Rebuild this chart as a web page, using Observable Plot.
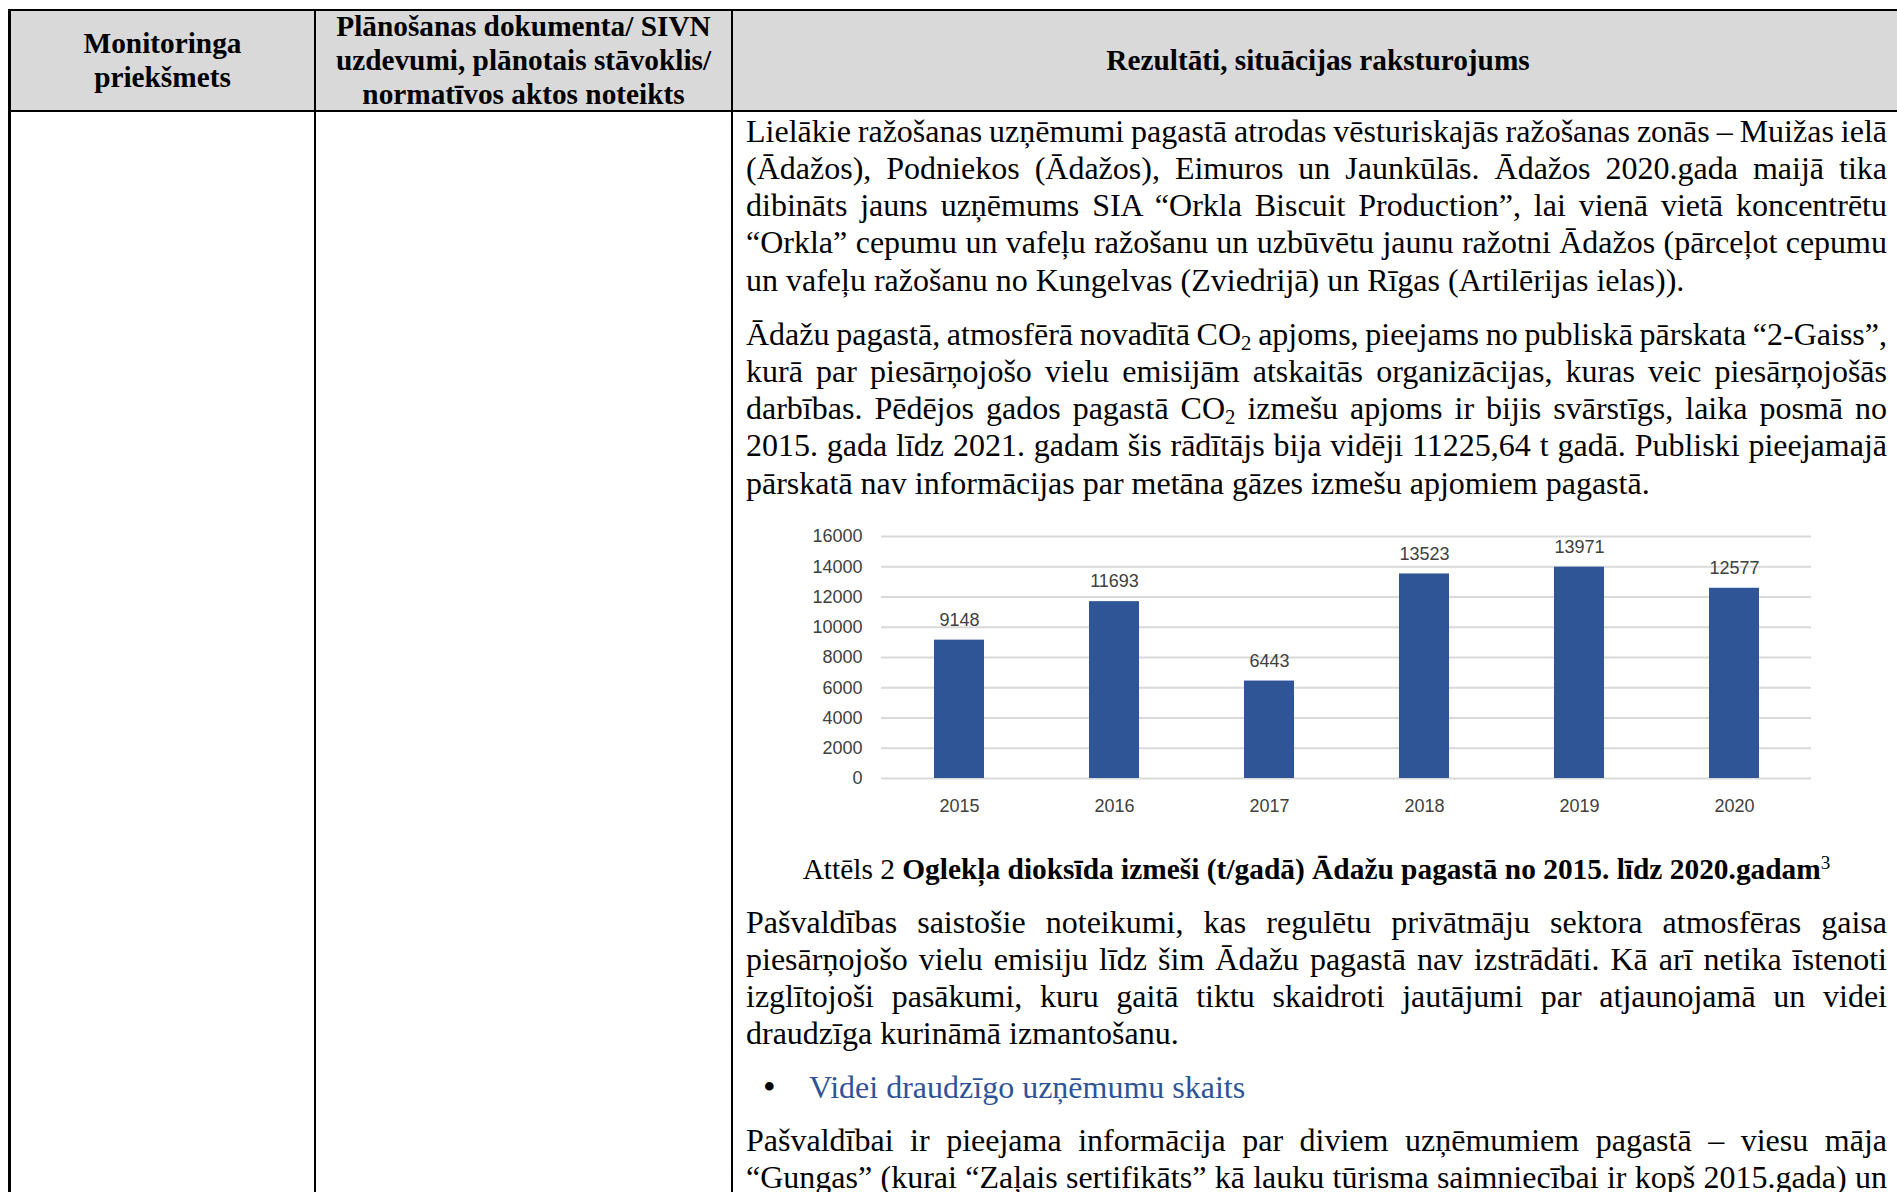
<!DOCTYPE html>
<html><head><meta charset="utf-8">
<script src="https://cdn.jsdelivr.net/npm/d3@7"></script>
<script src="https://cdn.jsdelivr.net/npm/@observablehq/plot@0.6"></script>
<style>
html,body{margin:0;padding:0;background:#fff;}
body{width:1897px;height:1192px;position:relative;overflow:hidden;font-family:"Liberation Serif","Times New Roman",serif;color:#000;}
.hdr{position:absolute;background:#d9d9d9;left:10px;top:10px;width:1887px;height:102px;}
.ln{position:absolute;background:#000;}
.hcell{position:absolute;top:11px;height:100px;display:flex;align-items:center;justify-content:center;text-align:center;font-weight:bold;font-size:29.3px;line-height:33.7px;}
.para{position:absolute;left:746px;width:1141px;font-size:32px;line-height:37.3px;}
.para div{text-align:justify;text-align-last:justify;}
.para div.last{text-align:left;text-align-last:left;}
.sub{font-size:0.65em;vertical-align:-0.22em;line-height:0;}
.cap{position:absolute;left:746px;width:1141px;text-align:center;font-size:29.4px;line-height:33.7px;}
.cap sup{font-size:0.65em;line-height:0;vertical-align:0.5em;font-weight:normal;}
#chart{position:absolute;left:800px;top:500px;}
</style>
</head><body>
<div class="hdr"></div>
<div class="ln" style="left:8px;top:9px;width:1889px;height:2px"></div>
<div class="ln" style="left:8px;top:110px;width:1889px;height:2px"></div>
<div class="ln" style="left:8px;top:9px;width:3px;height:1183px"></div>
<div class="ln" style="left:314px;top:9px;width:2px;height:1183px"></div>
<div class="ln" style="left:731px;top:9px;width:2px;height:1183px"></div>

<div class="hcell" style="left:11px;width:303px">Monitoringa<br>priekšmets</div>
<div class="hcell" style="left:316px;width:415px">Plānošanas dokumenta/ SIVN<br>uzdevumi, plānotais stāvoklis/<br>normatīvos aktos noteikts</div>
<div class="hcell" style="left:733px;width:1170px">Rezultāti, situācijas raksturojums</div>

<div class="para" style="top:112.5px">
<div>Lielākie ražošanas uzņēmumi pagastā atrodas vēsturiskajās ražošanas zonās – Muižas ielā</div>
<div>(Ādažos), Podniekos (Ādažos), Eimuros un Jaunkūlās. Ādažos 2020.gada maijā tika</div>
<div>dibināts jauns uzņēmums SIA “Orkla Biscuit Production”, lai vienā vietā koncentrētu</div>
<div>“Orkla” cepumu un vafeļu ražošanu un uzbūvētu jaunu ražotni Ādažos (pārceļot cepumu</div>
<div class="last">un vafeļu ražošanu no Kungelvas (Zviedrijā) un Rīgas (Artilērijas ielas)).</div>
</div>

<div class="para" style="top:315.5px">
<div>Ādažu pagastā, atmosfērā novadītā CO<span class="sub">2</span> apjoms, pieejams no publiskā pārskata “2-Gaiss”,</div>
<div>kurā par piesārņojošo vielu emisijām atskaitās organizācijas, kuras veic piesārņojošās</div>
<div>darbības. Pēdējos gados pagastā CO<span class="sub">2</span> izmešu apjoms ir bijis svārstīgs, laika posmā no</div>
<div>2015. gada līdz 2021. gadam šis rādītājs bija vidēji 11225,64 t gadā. Publiski pieejamajā</div>
<div class="last">pārskatā nav informācijas par metāna gāzes izmešu apjomiem pagastā.</div>
</div>

<div id="chart"></div>

<div class="cap" style="top:853px">Attēls 2 <b>Oglekļa dioksīda izmeši (t/gadā) Ādažu pagastā no 2015. līdz 2020.gadam</b><sup>3</sup></div>

<div class="para" style="top:903.5px">
<div>Pašvaldības saistošie noteikumi, kas regulētu privātmāju sektora atmosfēras gaisa</div>
<div>piesārņojošo vielu emisiju līdz šim Ādažu pagastā nav izstrādāti. Kā arī netika īstenoti</div>
<div>izglītojoši pasākumi, kuru gaitā tiktu skaidroti jautājumi par atjaunojamā un videi</div>
<div class="last">draudzīga kurināmā izmantošanu.</div>
</div>

<div class="para" style="top:1068.5px;left:763px;width:40px;font-size:36px;line-height:37.3px">•</div>
<div class="para" style="top:1068.5px;left:809px;width:1000px;color:#2f5496">Videi draudzīgo uzņēmumu skaits</div>

<div class="para" style="top:1121.5px">
<div>Pašvaldībai ir pieejama informācija par diviem uzņēmumiem pagastā – viesu māja</div>
<div>“Gungas” (kurai “Zaļais sertifikāts” kā lauku tūrisma saimniecībai ir kopš 2015.gada) un</div>
</div>

<script>
const years = ["2015", "2016", "2017", "2018", "2019", "2020"];
const emissions = [9148, 11693, 6443, 13523, 13971, 12577];
const yTicks = [0, 2000, 4000, 6000, 8000, 10000, 12000, 14000, 16000];

const data = years.map((y, i) => ({year: y, value: emissions[i]}));

const chart = Plot.plot({
  width: 1030,
  height: 340,
  marginLeft: 81,
  marginRight: 19,
  marginTop: 36,
  marginBottom: 62,
  style: {fontFamily: '"Liberation Sans", Arial, sans-serif', fontSize: "18px", color: "#404040", background: "transparent", overflow: "visible"},
  x: {domain: years, paddingInner: 0.68, paddingOuter: 0.34, label: null},
  y: {domain: [0, 16000], label: null},
  marks: [
    Plot.ruleY(yTicks, {stroke: "#d9d9d9", strokeWidth: 2}),
    Plot.barY(data, {x: "year", y: "value", fill: "#2f5597"}),
    Plot.text(data, {x: "year", y: "value", text: d => String(d.value), dy: -20, fill: "#404040", fontSize: 18}),
    Plot.axisX({tickSize: 0, tickPadding: 21, label: null, fontSize: 18}),
    Plot.axisY({ticks: yTicks, tickSize: 0, tickPadding: 19, tickFormat: d => String(d), label: null, fontSize: 18})
  ]
});
document.getElementById("chart").appendChild(chart);

// keep each justified line on one line: tighten word spacing if its natural width overflows
document.querySelectorAll(".para div:not(.last)").forEach(div => {
  const prev = [div.style.whiteSpace, div.style.textAlign, div.style.textAlignLast];
  div.style.whiteSpace = "nowrap";
  div.style.textAlign = "left";
  div.style.textAlignLast = "left";
  const over = div.scrollWidth - div.clientWidth;
  div.style.whiteSpace = prev[0];
  div.style.textAlign = prev[1];
  div.style.textAlignLast = prev[2];
  if (over > 0) {
    const spaces = (div.textContent.match(/ /g) || []).length || 1;
    div.style.wordSpacing = (-(over + 2) / spaces) + "px";
  }
});
</script>
</body></html>
